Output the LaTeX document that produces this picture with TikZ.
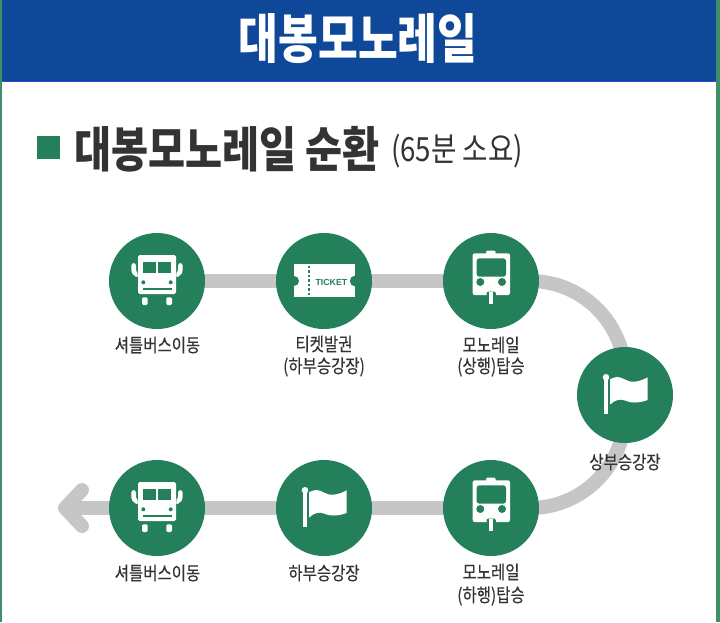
\documentclass[tikz,border=0pt]{standalone}
\usepackage{fontspec}
\usetikzlibrary{backgrounds}
\newfontfamily\kr[FakeStretch=0.83]{Noto Sans CJK KR}
\newfontfamily\krl[FakeStretch=0.83,FakeBold=0.2]{Noto Sans CJK KR}
\newfontfamily\krt[FakeStretch=0.81]{Noto Sans CJK KR}
\setmainfont{Liberation Sans}
\definecolor{mygreen}{HTML}{23805A}
\definecolor{myblue}{HTML}{0F4898}
\definecolor{mytrack}{HTML}{C6C6C6}
\definecolor{myedge}{HTML}{3E9068}
\definecolor{myink}{HTML}{333333}
\tikzset{
  stopdisc/.style={circle,fill=mygreen,draw=none,minimum size=96*0.75pt,inner sep=0pt},
  track/.style={draw=mytrack,line width=14*0.75pt},
  lbl/.style={text=myink,font=\krl\fontsize{14pt}{16pt}\selectfont,inner sep=0pt,anchor=center},
  ico/.style={fill=white,draw=none},
  icg/.style={fill=mygreen,draw=none},
  busicon/.pic={
    \fill[ico,rounded corners=1.2] (-19,-26) rectangle (19,13);
    \fill[icg] (-14.4,-18.7) rectangle (-0.8,-7.7);
    \fill[icg] (0.8,-18.7) rectangle (14.4,-7.7);
    \fill[icg] (-13.7,1.3) circle (2);
    \fill[icg] (13.7,1.3) circle (2);
    \fill[icg] (-14.5,7.3) rectangle (14.5,9);
    \fill[ico,rounded corners=1] (-15,16.3) rectangle (-9.3,24);
    \fill[ico,rounded corners=1] (9.3,16.3) rectangle (15,24);
    \fill[ico,rounded corners=2] (-25.7,-18) -- (-21,-18) -- (-21,-9) -- (-19,-7.5) -- (-19,-3) -- (-23,-5.5) -- (-25.7,-8.5) -- cycle;
    \fill[ico,rounded corners=2] (25.7,-18) -- (21,-18) -- (21,-9) -- (19,-7.5) -- (19,-3) -- (23,-5.5) -- (25.7,-8.5) -- cycle;
  },
  ticketicon/.pic={
    \fill[ico] (-30,-16.7) rectangle (31.3,16.3);
    \fill[icg] (-30,0) circle (5);
    \fill[icg] (31.3,0) circle (5.5);
    \draw[mygreen,line width=1.4pt,dash pattern=on 2pt off 1.4pt] (-14.7,-15.5) -- (-14.7,15.5);
    \node[text=mygreen,inner sep=0pt,font=\bfseries\fontsize{6.6pt}{8pt}\selectfont] (tickettext) at (7.4,1) {TICKET};
  },
  trainicon/.pic={
    \fill[ico,rounded corners=1.5] (-5,-30.5) rectangle (4.7,-26);
    \fill[ico,rounded corners=1.5] (-18.3,-27.7) rectangle (19,14);
    \fill[icg,rounded corners=2] (-14.3,-22.7) rectangle (15,-4.3);
    \fill[icg] (-10.7,1) circle (4);
    \fill[icg] (11,1) circle (4);
    \fill[icg,rounded corners=1.5] (-4.5,10.5) rectangle (4.8,15);
    \fill[icg] (-4.5,12) rectangle (4.8,15);
    \fill[ico] (-1.7,11.2) rectangle (2.3,22.5);
  },
  flagicon/.pic={
    \fill[ico] (-20.8,-18) rectangle (-17.3,19);
    \fill[ico] (-19,-17.7) circle (3.3);
    \fill[ico] (-15,-15.7) .. controls (-10,-18.5) and (-6,-19) .. (0,-15.5)
      .. controls (5,-12.5) and (12,-12) .. (22.7,-17.7)
      -- (22.7,5) .. controls (13,8.5) and (5,8) .. (0,5.5)
      .. controls (-5,3.5) and (-10,5) .. (-15,9.5) -- cycle;
  }
}
\begin{document}
\begin{tikzpicture}[x=0.75pt,y=-0.75pt]
\useasboundingbox (0,0) rectangle (720,622);
\fill[myedge] (0,0) rectangle (1.5,622);
\fill[myedge] (715.5,0) rectangle (720,622);
\fill[myblue] (1.5,0) rectangle (715.5,81);
\fill[blue!45!myblue!85!white] (1.5,81) rectangle (715.5,82);
\node[text=white,inner sep=0pt,font=\krt\bfseries\fontsize{40pt}{44pt}\selectfont] (title) at (358,39) {대봉모노레일};
\node[fill=mygreen,inner sep=0pt,minimum size=23*0.75pt] (bullet) at (48,147.5) {};
\node[text=myink,inner sep=0pt,anchor=west,font=\kr\bfseries\fontsize{36.4pt}{38pt}\selectfont] (sub) at (74,149) {대봉모노레일 순환};
\node[text=myink,inner sep=0pt,anchor=west,font=\kr\fontsize{25pt}{28pt}\selectfont] (subb) at (391,151) {(65분 소요)};

\node[stopdisc] (n1) at (157,281) {};
\node[stopdisc] (n2) at (324,281) {};
\node[stopdisc] (n3) at (491,281) {};
\node[stopdisc] (n4) at (625,395) {};
\node[stopdisc] (n5) at (491,508) {};
\node[stopdisc] (n6) at (324,508) {};
\node[stopdisc] (n7) at (157,508) {};
\coordinate (tip) at (65,508);
\coordinate (barbu) at (82,490);
\coordinate (barbd) at (82,526);
\begin{scope}[on background layer]
\draw[track] (n1.center) -- (n2.center);
\draw[track] (n2.center) -- (n3.center);
\draw[track] (n3.center) -- ++(39,0) arc[start angle=-90,end angle=0,radius=95] -- (n4.center);
\draw[track] (n4.center) -- ++(-0,18) arc[start angle=0,end angle=90,radius=95] -- (n5.center);
\draw[track] (n5.center) -- (n6.center);
\draw[track] (n6.center) -- (n7.center);
\draw[track] (n7.center) -- (tip);
\draw[track,line cap=round,line join=round] (barbu) -- (tip) -- (barbd);
\end{scope}
\pic at (157,281) {busicon};
\pic at (324,281) {ticketicon};
\pic at (491,281) {trainicon};
\pic at (625,395) {flagicon};
\pic at (491,508) {trainicon};
\pic at (324,508) {flagicon};
\pic at (157,508) {busicon};
\node[lbl] (l1) at (157.5,345) {셔틀버스이동};
\node[lbl] (l2) at (324,344) {티켓발권};
\node[lbl] (l2b) at (324,367) {(하부승강장)};
\node[lbl] (l3) at (491,345) {모노레일};
\node[lbl] (l3b) at (491,367) {(상행)탑승};
\node[lbl] (l4) at (625,462) {상부승강장};
\node[lbl] (l5) at (491,572) {모노레일};
\node[lbl] (l5b) at (491,596) {(하행)탑승};
\node[lbl] (l6) at (324,573) {하부승강장};
\node[lbl] (l7) at (157.5,573) {셔틀버스이동};
\end{tikzpicture}
\end{document}
